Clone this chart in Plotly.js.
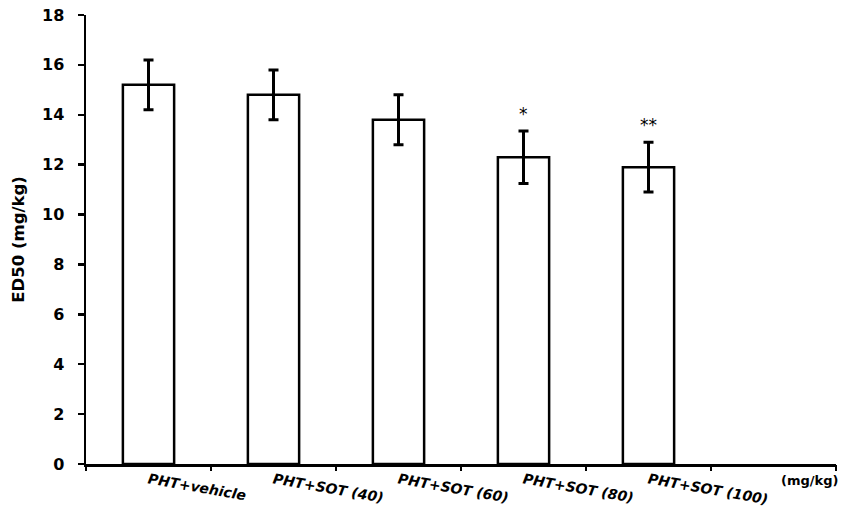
<!DOCTYPE html>
<html>
<head>
<meta charset="utf-8">
<script src="https://cdn.plot.ly/plotly-3.0.1.min.js"></script>
<style>html,body{margin:0;padding:0;background:#fff;}#chart{width:841px;height:519px;}</style>
</head>
<body>
<div id="chart"></div>
<script>
const categories = ["PHT+vehicle", "PHT+SOT (40)", "PHT+SOT (60)", "PHT+SOT (80)", "PHT+SOT (100)", ""];
const ed50 = [15.2, 14.8, 13.8, 12.3, 11.9, null];
const sem = [1.0, 1.0, 1.0, 1.05, 1.0, null];
const significance = ["", "", "", "*", "**", ""];
const unitLabel = "(mg/kg)";
const yTicks = [0, 2, 4, 6, 8, 10, 12, 14, 16, 18];

const FONT = "DejaVu Sans, Arial, sans-serif";
const xIdx = categories.map((c, i) => i);

const trace = {
  type: "bar",
  x: xIdx,
  y: ed50,
  width: 0.41,
  marker: {color: "#ffffff", line: {color: "#000000", width: 2.5}},
  error_y: {type: "data", array: sem, visible: true, color: "#000000", thickness: 3, width: 5},
  hoverinfo: "skip"
};

const annotations = [];
significance.forEach((s, i) => {
  if (s) {
    annotations.push({
      x: i, y: ed50[i] + sem[i], xref: "x", yref: "y",
      text: s, showarrow: false, yanchor: "bottom", yshift: 5,
      font: {family: FONT, size: 17, color: "#000"}
    });
  }
});
annotations.push({
  x: 1, xref: "paper", xanchor: "right", y: 0, yref: "paper", yanchor: "top", yshift: -7, xshift: 4,
  text: "<b>" + unitLabel + "</b>", showarrow: false,
  font: {family: FONT, size: 13, color: "#000"}
});

const layout = {
  width: 841, height: 519,
  margin: {l: 86, r: 5, t: 15, b: 55},
  paper_bgcolor: "#ffffff", plot_bgcolor: "#ffffff",
  showlegend: false,
  font: {family: FONT, color: "#000"},
  xaxis: {
    type: "linear",
    range: [-0.5, 5.5],
    tickmode: "array",
    tickvals: xIdx,
    ticktext: categories.map(c => c ? "<b><i>" + c + "</i></b>" : ""),
    tickangle: 10,
    ticks: "",
    showline: true, linecolor: "#000", linewidth: 2.5,
    showgrid: false, zeroline: false,
    tickfont: {family: FONT, size: 14, color: "#000"},
    fixedrange: true
  },
  xaxis2: {
    overlaying: "x", matches: "x", range: [-0.5, 5.5],
    tickmode: "array", tickvals: [-0.5, 0.5, 1.5, 2.5, 3.5, 4.5, 5.5],
    showticklabels: false, ticks: "outside", ticklen: 6, tickwidth: 2.5, tickcolor: "#000",
    showgrid: false, zeroline: false, showline: false
  },
  yaxis: {
    range: [0, 18],
    tickmode: "array",
    tickvals: yTicks,
    ticktext: yTicks.map(v => "<b>" + v + "</b>"),
    ticks: "outside", ticklen: 6, tickwidth: 2.5, tickcolor: "#000",
    ticklabelstandoff: 10,
    showline: true, linecolor: "#000", linewidth: 2.5,
    showgrid: false, zeroline: false,
    tickfont: {family: FONT, size: 16, color: "#000"},
    title: {text: "<b>ED50 (mg/kg)</b>", font: {family: FONT, size: 16.5, color: "#000"}, standoff: 14},
    fixedrange: true
  },
  annotations: annotations
};

const tickTrace = {type: "scatter", x: [0], y: [0], xaxis: "x2", mode: "markers", marker: {opacity: 0}, hoverinfo: "skip"};

Plotly.newPlot("chart", [trace, tickTrace], layout, {displayModeBar: false, staticPlot: true});
</script>
</body>
</html>
